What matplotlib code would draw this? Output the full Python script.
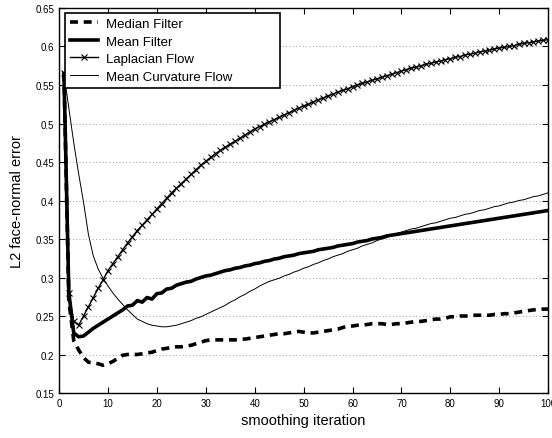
import numpy as np
import matplotlib.pyplot as plt

plt.rcParams['font.family'] = ['Liberation Sans', 'DejaVu Sans']

iterations = list(range(1, 101))

median_filter = [
    0.565, 0.270, 0.218, 0.206, 0.196, 0.190, 0.189, 0.188, 0.186, 0.188,
    0.191, 0.195, 0.199, 0.200, 0.200, 0.200, 0.201, 0.202, 0.203, 0.205,
    0.207, 0.208, 0.209, 0.210, 0.210, 0.211, 0.212, 0.214, 0.216, 0.218,
    0.219, 0.219, 0.219, 0.219, 0.219, 0.219, 0.220, 0.220, 0.221, 0.222,
    0.223, 0.224, 0.225, 0.226, 0.227, 0.227, 0.228, 0.229, 0.230, 0.229,
    0.228, 0.228, 0.229, 0.230, 0.231, 0.232, 0.233, 0.235, 0.237, 0.237,
    0.238, 0.238, 0.239, 0.240, 0.240, 0.240, 0.239, 0.239, 0.240, 0.240,
    0.241, 0.242, 0.243, 0.243, 0.244, 0.245, 0.246, 0.246, 0.247, 0.249,
    0.249, 0.250, 0.250, 0.250, 0.251, 0.251, 0.251, 0.251, 0.252, 0.252,
    0.253, 0.253, 0.254, 0.255, 0.256, 0.257, 0.258, 0.258, 0.259, 0.259,
]

mean_filter = [
    0.565, 0.280, 0.228, 0.223, 0.224, 0.229, 0.234, 0.238, 0.242, 0.246,
    0.250, 0.254, 0.258, 0.263, 0.264, 0.270, 0.268, 0.274, 0.272, 0.279,
    0.280, 0.285, 0.286, 0.290, 0.292, 0.294, 0.295, 0.298, 0.300, 0.302,
    0.303, 0.305, 0.307, 0.309, 0.310, 0.312, 0.313, 0.315, 0.316, 0.318,
    0.319, 0.321, 0.322, 0.324, 0.325, 0.327, 0.328, 0.329, 0.331, 0.332,
    0.333, 0.334, 0.336, 0.337, 0.338, 0.339, 0.341, 0.342, 0.343, 0.344,
    0.346, 0.347, 0.348, 0.350, 0.351, 0.352, 0.354, 0.355, 0.356, 0.357,
    0.358, 0.359, 0.360, 0.361, 0.362, 0.363, 0.364, 0.365, 0.366, 0.367,
    0.368, 0.369, 0.370, 0.371, 0.372, 0.373, 0.374, 0.375, 0.376, 0.377,
    0.378, 0.379, 0.380, 0.381, 0.382, 0.383, 0.384, 0.385, 0.386, 0.387,
]

laplacian_flow = [
    0.565, 0.280, 0.243, 0.238, 0.250, 0.262, 0.274, 0.286, 0.297, 0.309,
    0.318, 0.327, 0.336, 0.345, 0.353, 0.361, 0.368, 0.375, 0.382, 0.389,
    0.396, 0.403, 0.410, 0.416, 0.422, 0.428, 0.434, 0.440, 0.446, 0.451,
    0.456, 0.461, 0.465, 0.469, 0.473, 0.477, 0.481, 0.485, 0.489, 0.493,
    0.496, 0.499, 0.502, 0.505, 0.508, 0.511, 0.514, 0.517, 0.520, 0.523,
    0.525, 0.528, 0.531, 0.533, 0.536, 0.538, 0.541, 0.543, 0.545, 0.548,
    0.550, 0.552, 0.554, 0.556, 0.558, 0.560, 0.562, 0.564, 0.566, 0.568,
    0.570, 0.572, 0.573, 0.575, 0.577, 0.578, 0.580, 0.581, 0.583, 0.584,
    0.586, 0.587, 0.589, 0.590, 0.591, 0.593, 0.594, 0.595, 0.597, 0.598,
    0.599, 0.600, 0.601, 0.603, 0.604, 0.605, 0.606, 0.607, 0.608, 0.609,
]

mean_curvature_flow = [
    0.565, 0.520, 0.475, 0.435, 0.398, 0.356, 0.328, 0.311, 0.299, 0.289,
    0.280, 0.272, 0.265, 0.258, 0.252, 0.246, 0.243, 0.240, 0.238, 0.237,
    0.236, 0.236, 0.237, 0.238, 0.240, 0.242, 0.244, 0.247, 0.249, 0.252,
    0.255, 0.258, 0.261, 0.264, 0.268, 0.271, 0.275, 0.278, 0.282, 0.285,
    0.289, 0.292, 0.295, 0.297, 0.299, 0.302, 0.304, 0.307, 0.309, 0.312,
    0.314, 0.317, 0.319, 0.322, 0.324, 0.327, 0.329, 0.331, 0.334, 0.336,
    0.338, 0.341, 0.343, 0.345, 0.348, 0.350, 0.352, 0.355, 0.357, 0.359,
    0.361, 0.363, 0.364, 0.366, 0.368, 0.370, 0.371, 0.373, 0.375, 0.377,
    0.378, 0.380, 0.382, 0.383, 0.385, 0.387, 0.388, 0.390, 0.392, 0.393,
    0.395, 0.397, 0.398, 0.400, 0.401, 0.403, 0.405, 0.406, 0.408, 0.410,
]

fig = plt.figure(figsize=(5.52, 4.39), dpi=100)
ax = fig.add_axes([0.107, 0.1025, 0.886, 0.877])

ax.plot(iterations, median_filter, color='black', linestyle=(0, (2.2, 1.6)),
        linewidth=2.6, label='Median Filter')
ax.plot(iterations, mean_filter, color='black', linewidth=2.6, label='Mean Filter')
ax.plot(iterations, laplacian_flow, color='black', linewidth=1.0, marker='x',
        markersize=4, markeredgewidth=0.8, label='Laplacian Flow')
ax.plot(iterations, mean_curvature_flow, color='black', linewidth=0.7,
        label='Mean Curvature Flow')

ax.set_xlim(0, 100)
ax.set_ylim(0.15, 0.65)
ax.set_xticks(np.arange(0, 101, 10))
ax.set_yticks(np.arange(0.15, 0.651, 0.05))
ax.set_yticklabels(['0.15', '0.2', '0.25', '0.3', '0.35', '0.4', '0.45',
                    '0.5', '0.55', '0.6', '0.65'])
ax.tick_params(direction='in', top=True, right=True, labelsize=7, length=4, width=0.8)
ax.yaxis.grid(True, linestyle=(0, (1, 3)), color='gray', linewidth=0.6)
for s in ax.spines.values():
    s.set_linewidth(1.0)

ax.set_xlabel('smoothing iteration', fontsize=10.5, labelpad=4)
ax.set_ylabel('L2 face-normal error', fontsize=10.5, labelpad=8)

# legend box stretched to the same width as the original
leg = ax.legend(loc='upper left', bbox_to_anchor=(0.0123, 0.5, 0.44, 0.4875),
                mode='expand', fontsize=9.5, numpoints=1, handlelength=2.1,
                handletextpad=0.6, fancybox=False, framealpha=1, edgecolor='black',
                borderaxespad=0, labelspacing=0.4, borderpad=0.38)
leg.get_frame().set_linewidth(1.2)

fig.savefig('out.png', dpi=100)
